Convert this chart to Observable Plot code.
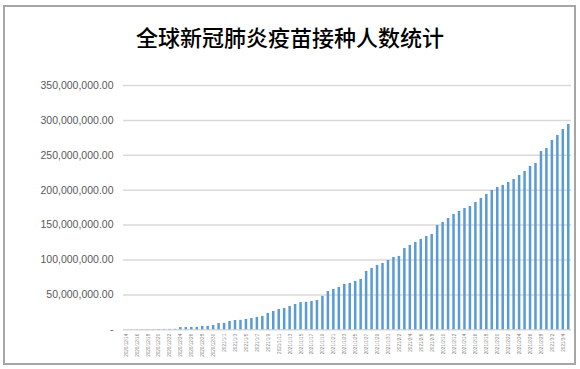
<!DOCTYPE html>
<html><head><meta charset="utf-8">
<script src="https://cdn.jsdelivr.net/npm/d3@7"></script>
<script src="https://cdn.jsdelivr.net/npm/@observablehq/plot@0.6"></script>
<style>
body{margin:0;background:#fff;}
#wrap{position:relative;width:580px;height:369px;overflow:hidden;background:#fff;}
#title{position:absolute;left:0;top:22px;width:580px;text-align:center;font-family:"Noto Sans CJK SC";font-weight:500;font-size:22px;line-height:28px;color:#000;}
#chart{position:absolute;left:0;top:60px;}
#frame{position:absolute;left:3px;top:5px;width:573px;height:360px;box-sizing:border-box;border:2px solid #a6a6a6;pointer-events:none;}
</style></head>
<body><div id="wrap"><div id="title">全球新冠肺炎疫苗接种人数统计</div><div id="chart"></div><div id="frame"></div></div>
<script>
const dates = [
"2020/12/14","2020/12/15","2020/12/16","2020/12/17","2020/12/18","2020/12/19","2020/12/20","2020/12/21","2020/12/22","2020/12/23",
"2020/12/24","2020/12/25","2020/12/26","2020/12/27","2020/12/28","2020/12/29","2020/12/30","2020/12/31",
"2021/1/1","2021/1/2","2021/1/3","2021/1/4","2021/1/5","2021/1/6","2021/1/7","2021/1/8","2021/1/9","2021/1/10",
"2021/1/11","2021/1/12","2021/1/13","2021/1/14","2021/1/15","2021/1/16","2021/1/17","2021/1/18","2021/1/19","2021/1/20",
"2021/1/21","2021/1/22","2021/1/23","2021/1/24","2021/1/25","2021/1/26","2021/1/27","2021/1/28","2021/1/29","2021/1/30","2021/1/31",
"2021/2/1","2021/2/2","2021/2/3","2021/2/4","2021/2/5","2021/2/6","2021/2/7","2021/2/8","2021/2/9","2021/2/10",
"2021/2/11","2021/2/12","2021/2/13","2021/2/14","2021/2/15","2021/2/16","2021/2/17","2021/2/18","2021/2/19","2021/2/20",
"2021/2/21","2021/2/22","2021/2/23","2021/2/24","2021/2/25","2021/2/26","2021/2/27","2021/2/28",
"2021/3/1","2021/3/2","2021/3/3","2021/3/4","2021/3/5"
];
const vaccinated = [
100000,150000,200000,260000,320000,380000,450000,520000,600000,680000,
3300000,3300000,3400000,3400000,4800000,4900000,6200000,9000000,
9200000,11900000,13300000,13500000,14800000,16200000,17700000,19100000,23400000,26300000,
29100000,30600000,33400000,36300000,39000000,39300000,40600000,42000000,47800000,54900000,
57800000,60700000,65000000,66400000,69300000,72100000,83600000,87900000,92200000,95000000,99300000,
103600000,105100000,116500000,120800000,125100000,129400000,133700000,136600000,149500000,153800000,
159500000,165200000,169500000,173800000,176700000,182400000,188200000,193900000,199600000,203900000,
206800000,211100000,215400000,221100000,226900000,234000000,238300000,255500000,
259800000,271300000,278400000,287000000,294200000
];
const yTicks = [0,50000000,100000000,150000000,200000000,250000000,300000000,350000000];

const data = dates.map((d,i)=>({date:d, value:vaccinated[i]}));
const labeled = dates.filter((d,i)=>i%2===0);
const fmt = d3.format(",.2f");

const chart = Plot.plot({
  width:580, height:309,
  marginLeft:123, marginRight:9, marginTop:25, marginBottom:39.7,
  x:{type:"band", domain:dates, paddingInner:0.54, paddingOuter:0.27},
  y:{domain:[0,350000000]},
  style:{background:"transparent", fontFamily:"Liberation Sans"},
  marks:[
    Plot.ruleY(yTicks,{stroke:"#d9d9d9",strokeWidth:1.5}),
    Plot.barY(data,{x:"date",y:"value",fill:"#5b9bd5"}),
    Plot.axisY({ticks:yTicks, tickSize:0, tickPadding:10, tickFormat:d=>d===0?"-":fmt(d), fontSize:10.5, color:"#595959", label:null}),
    Plot.axisX({ticks:labeled, tickSize:0, tickPadding:4, tickRotate:-90, fontSize:4.6, color:"#7f7f7f", label:null})
  ]
});
document.getElementById("chart").appendChild(chart);
</script>
</body></html>
